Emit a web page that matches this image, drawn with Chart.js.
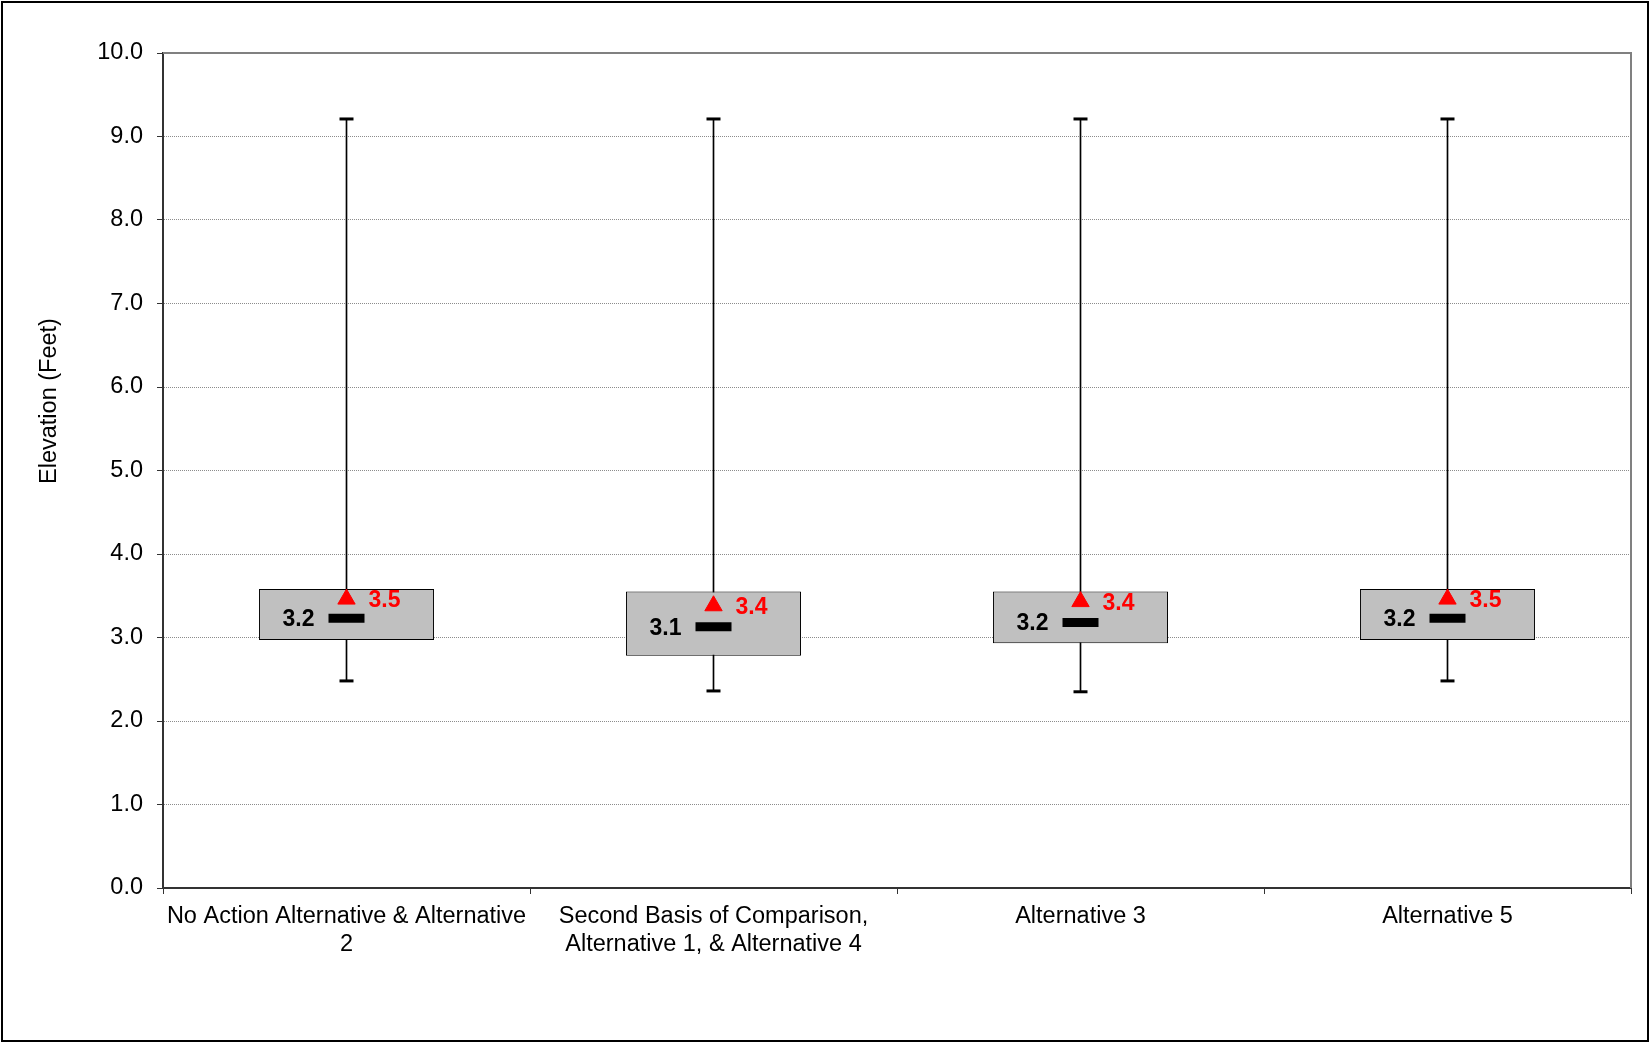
<!DOCTYPE html>
<html>
<head>
<meta charset="utf-8">
<title>Elevation box plot</title>
<script src="https://cdn.jsdelivr.net/npm/chart.js@4.4.1/dist/chart.umd.min.js"></script>
<style>
  html, body { margin: 0; padding: 0; background: #fff; overflow: hidden; }
  canvas { display: block; }
</style>
</head>
<body>
<canvas id="chart" width="1650" height="1043"></canvas>
<script>
// values
const categories = [
  ["No Action Alternative & Alternative", "2"],
  ["Second Basis of Comparison,", "Alternative 1, & Alternative 4"],
  "Alternative 3",
  "Alternative 5"
];
const whiskerLow = [2.48, 2.36, 2.35, 2.48];
const boxLow = [2.97, 2.78, 2.93, 2.97];
const medians = [3.23, 3.13, 3.18, 3.23];
const means = [3.46, 3.38, 3.43, 3.46];
const boxHigh = [3.58, 3.55, 3.55, 3.58];
const whiskerHigh = [9.21, 9.21, 9.21, 9.21];
const yTicks = [0, 1, 2, 3, 4, 5, 6, 7, 8, 9, 10];

const FONT = "'Liberation Sans', Arial, sans-serif";
const TEXT_SIZE = 23.5;

// frame, plot border, axis title and the value labels
const decorations = {
  id: "decorations",
  beforeDatasetsDraw(chart) {
    const { ctx, chartArea: a } = chart;
    ctx.save();
    ctx.strokeStyle = "#808080";
    ctx.lineWidth = 2;
    ctx.beginPath();
    ctx.moveTo(a.left, a.top);
    ctx.lineTo(a.right, a.top);
    ctx.lineTo(a.right, a.bottom);
    ctx.stroke();
    ctx.restore();
  },
  afterDraw(chart) {
    const { ctx } = chart;
    const x = chart.scales.x, y = chart.scales.y;
    ctx.save();
    ctx.strokeStyle = "#000";
    ctx.lineWidth = 2;
    ctx.strokeRect(2, 2, 1646, 1039);

    ctx.translate(50, 401);
    ctx.rotate(-Math.PI / 2);
    ctx.fillStyle = "#000";
    ctx.font = TEXT_SIZE + "px " + FONT;
    ctx.textAlign = "center";
    ctx.textBaseline = "middle";
    ctx.fillText("Elevation (Feet)", 0, 0);
    ctx.restore();

    ctx.save();
    ctx.font = "bold 23px " + FONT;
    ctx.textBaseline = "alphabetic";
    categories.forEach((c, i) => {
      const cx = x.getPixelForValue(i);
      ctx.fillStyle = "#000";
      ctx.textAlign = "right";
      ctx.fillText(medians[i].toFixed(1), cx - 32, y.getPixelForValue(medians[i]) + 8);
      ctx.fillStyle = "#ff0000";
      ctx.textAlign = "left";
      ctx.fillText(means[i].toFixed(1), cx + 22, y.getPixelForValue(means[i]) + 8);
    });
    ctx.restore();
  }
};

const pointSet = (data, style, radius, width, color, order) => ({
  type: "line",
  data: data,
  showLine: false,
  pointStyle: style,
  pointRadius: radius,
  pointHoverRadius: radius,
  pointBorderWidth: width,
  pointBorderColor: color,
  pointBackgroundColor: color,
  order: order
});

new Chart(document.getElementById("chart"), {
  type: "bar",
  data: {
    labels: categories,
    datasets: [
      {
        data: whiskerLow.map((v, i) => [v, whiskerHigh[i]]),
        backgroundColor: "#000",
        barThickness: 1,
        grouped: false,
        order: 6
      },
      {
        data: boxLow.map((v, i) => [v, boxHigh[i]]),
        backgroundColor: "#c0c0c0",
        borderColor: "#000",
        borderWidth: 1,
        borderSkipped: false,
        barPercentage: 0.477,
        categoryPercentage: 1,
        grouped: false,
        order: 5
      },
      pointSet(whiskerLow, "line", 7, 3, "#000", 4),
      pointSet(whiskerHigh, "line", 7, 3, "#000", 3),
      pointSet(medians, "line", 18, 9, "#000", 2),
      pointSet(means, "triangle", 10, 1, "#ff0000", 1)
    ]
  },
  options: {
    responsive: false,
    animation: false,
    devicePixelRatio: 1,
    layout: { autoPadding: false, padding: { top: 53, right: 19, left: 0, bottom: 0 } },
    plugins: { legend: { display: false }, tooltip: { enabled: false } },
    scales: {
      x: {
        offset: true,
        afterFit: s => {
          s.height = 155;
          s.paddingLeft = 0;
          s.paddingRight = 0;
        },
        grid: {
          offset: true,
          drawOnChartArea: false,
          drawTicks: true,
          tickLength: 6,
          tickColor: "#333",
          tickWidth: 1
        },
        border: { color: "#333", width: 2 },
        ticks: {
          color: "#000",
          font: { family: FONT, size: TEXT_SIZE, lineHeight: 1.19 },
          padding: 9,
          maxRotation: 0,
          autoSkip: false
        }
      },
      y: {
        min: 0,
        max: 10,
        afterFit: s => { s.width = 163; },
        afterBuildTicks: s => { s.ticks = yTicks.map(v => ({ value: v })); },
        grid: {
          color: "#8c8c8c",
          lineWidth: 1,
          tickLength: 6,
          tickColor: "#333",
          tickWidth: 1,
          tickBorderDash: []
        },
        border: { color: "#333", width: 2, dash: [1, 1] },
        ticks: {
          color: "#000",
          font: { family: FONT, size: TEXT_SIZE },
          padding: 14,
          callback: v => Number(v).toFixed(1)
        }
      }
    }
  },
  plugins: [decorations]
});
</script>
</body>
</html>
